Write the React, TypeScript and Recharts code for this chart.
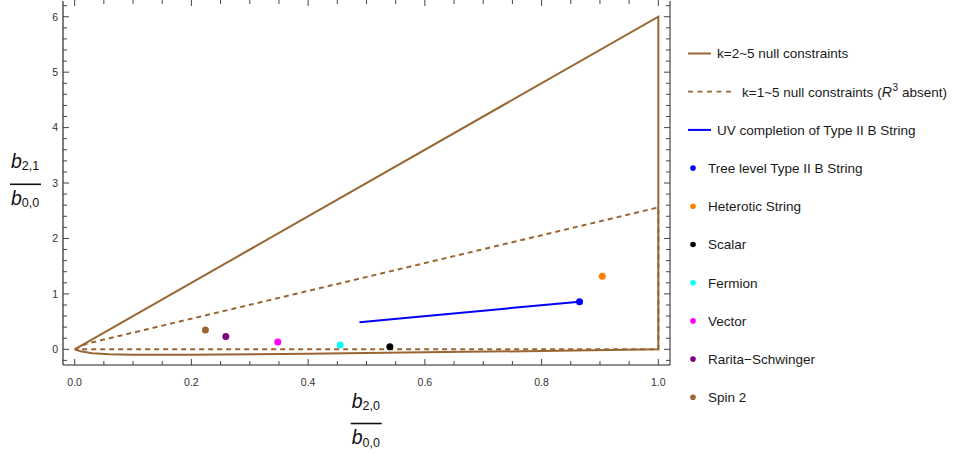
import { ComposedChart, Line, Scatter, XAxis, YAxis } from "recharts"

// k=2~5 region: up the upper edge, down at x=1, back along the lower curve
const solidRegion = [
  { x: 0, y: 0 },
  { x: 1, y: 6 },
  { x: 1, y: 0 },
  { x: 0.8, y: -0.03 },
  { x: 0.6, y: -0.055 },
  { x: 0.4, y: -0.08 },
  { x: 0.2, y: -0.098 },
  { x: 0.1, y: -0.1 },
  { x: 0.06, y: -0.09 },
  { x: 0.03, y: -0.07 },
  { x: 0.01, y: -0.035 },
  { x: 0, y: 0 },
]

// k=1~5 region (R^3 absent)
const dashedRegion = [
  { x: 0, y: 0 },
  { x: 0.02, y: 0.1 },
  { x: 1, y: 2.56 },
  { x: 1, y: 0 },
  { x: 0, y: 0 },
]

const uvLine = [
  { x: 0.488, y: 0.487 },
  { x: 0.865, y: 0.86 },
]

const treeLevel = [{ x: 0.865, y: 0.86 }]
const heterotic = [{ x: 0.904, y: 1.32 }]
const scalar = [{ x: 0.54, y: 0.047 }]
const fermion = [{ x: 0.455, y: 0.078 }]
const vector = [{ x: 0.348, y: 0.13 }]
const raritaSchwinger = [{ x: 0.259, y: 0.23 }]
const spin2 = [{ x: 0.224, y: 0.35 }]

const xTicks = [
  0, 0.05, 0.1, 0.15, 0.2, 0.25, 0.3, 0.35, 0.4, 0.45, 0.5,
  0.55, 0.6, 0.65, 0.7, 0.75, 0.8, 0.85, 0.9, 0.95, 1.0,
]
const yTicks = [
  -0.2, 0, 0.2, 0.4, 0.6, 0.8, 1, 1.2, 1.4, 1.6, 1.8, 2, 2.2, 2.4, 2.6, 2.8, 3,
  3.2, 3.4, 3.6, 3.8, 4, 4.2, 4.4, 4.6, 4.8, 5, 5.2, 5.4, 5.6, 5.8, 6, 6.2,
]

const BROWN = "#996633"
const FONT = "'Liberation Sans', Arial, sans-serif"
const TICK = "#444"

const isXMajor = (v: number) => Math.abs(v * 5 - Math.round(v * 5)) < 1e-6
const isYMajor = (v: number) => Math.abs(v - Math.round(v)) < 1e-6

const BottomTick = ({ x, y, payload }: any) => {
  const major = isXMajor(payload.value)
  return (
    <g>
      <line x1={x} x2={x} y1={y} y2={y - (major ? 6 : 4)} stroke={TICK} />
      {major && (
        <text x={x} y={y + 21} textAnchor="middle" fontSize={10.5} fontFamily={FONT} fill="#333">
          {payload.value.toFixed(1)}
        </text>
      )}
    </g>
  )
}

const TopTick = ({ x, y, payload }: any) => {
  const major = isXMajor(payload.value)
  return <line x1={x} x2={x} y1={y - 1} y2={y + (major ? 5 : 3)} stroke={TICK} />
}

const LeftTick = ({ x, y, payload }: any) => {
  const major = isYMajor(payload.value)
  return (
    <g>
      <line x1={x} x2={x + (major ? 6 : 4)} y1={y} y2={y} stroke={TICK} />
      {major && (
        <text x={x - 5} y={y + 3.8} textAnchor="end" fontSize={10.5} fontFamily={FONT} fill="#333">
          {Math.round(payload.value)}
        </text>
      )}
    </g>
  )
}

const RightTick = ({ x, y, payload }: any) => {
  const major = isYMajor(payload.value)
  return <line x1={x} x2={x - (major ? 6 : 4)} y1={y} y2={y} stroke={TICK} />
}

const dot = (color: string, r = 3.5) => (props: any) =>
  <circle cx={props.cx} cy={props.cy} r={r} fill={color} />

const legendItems = [
  { label: "k=2~5 null constraints", kind: "line", color: BROWN },
  { label: "k=1~5 null constraints", kind: "dash", color: BROWN },
  { label: "UV completion of Type II B String", kind: "line", color: "#0000ff" },
  { label: "Tree level Type II B String", kind: "dot", color: "#0000ff" },
  { label: "Heterotic String", kind: "dot", color: "#ff8000" },
  { label: "Scalar", kind: "dot", color: "#000000" },
  { label: "Fermion", kind: "dot", color: "#00ffff" },
  { label: "Vector", kind: "dot", color: "#ff00ff" },
  { label: "Rarita\u2212Schwinger", kind: "dot", color: "#800080" },
  { label: "Spin 2", kind: "dot", color: BROWN },
]

const Fraction = ({ x, y, num }: { x: number; y: number; num: string }) => (
  <g fontFamily={FONT} fill="#111">
    <text x={x + 1} y={y - 16}>
      <tspan fontSize={19.5} fontStyle="italic">b</tspan>
      <tspan fontSize={12.5} dy={2}>{num}</tspan>
    </text>
    <line x1={x} x2={x + 31} y1={y} y2={y} stroke="#111" strokeWidth={1.6} />
    <text x={x + 1} y={y + 20.5}>
      <tspan fontSize={19.5} fontStyle="italic">b</tspan>
      <tspan fontSize={12.5} dy={2.5}>0,0</tspan>
    </text>
  </g>
)

const Overlay = () => (
  <svg width={971} height={454} style={{ position: "absolute", left: 0, top: 0, pointerEvents: "none" }}>
    <Fraction x={10} y={184.3} num="2,1" />
    <Fraction x={350.7} y={423.5} num="2,0" />
    {legendItems.map((item, i) => {
      const cy = 53.5 + i * 38.2
      return (
        <g key={item.label}>
          {item.kind === "line" && (
            <line x1={688} x2={711} y1={cy} y2={cy} stroke={item.color} strokeWidth={2} />
          )}
          {item.kind === "dash" && (
            <line x1={688} x2={731} y1={cy} y2={cy} stroke={item.color} strokeWidth={1.8} strokeDasharray="5 4.5" />
          )}
          {item.kind === "dot" && <circle cx={693} cy={cy} r={2.8} fill={item.color} />}
          <text
            x={item.kind === "dot" ? 708 : item.kind === "dash" ? 742 : 717}
            y={cy + 4.8}
            fontSize={13.5}
            fontFamily={FONT}
            fill="#1a1a1a"
          >
            {item.label}
            {item.kind === "dash" && (
              <>
                <tspan dx={4}>(</tspan>
                <tspan fontStyle="italic" fontSize={14}>R</tspan>
                <tspan fontSize={10} dy={-6} dx={0.5}>3</tspan>
                <tspan dy={6} dx={4}>absent)</tspan>
              </>
            )}
          </text>
        </g>
      )
    })}
  </svg>
)

const App = () => {
  return (
    <div style={{ position: "absolute", left: 0, top: 0, width: 971, height: 454, background: "#fff" }}>
      <ComposedChart width={971} height={454} margin={{ top: 0, right: 300, bottom: 88, left: 62 }}>
        <XAxis
          xAxisId="bottom"
          dataKey="x"
          type="number"
          domain={[-0.02, 1.02]}
          allowDataOverflow
          ticks={xTicks}
          interval={0}
          height={1}
          tickSize={0}
          tickMargin={0}
          tickLine={false}
          axisLine={{ stroke: "#222" }}
          tick={<BottomTick />}
        />
        <XAxis
          xAxisId="top"
          orientation="top"
          dataKey="x"
          type="number"
          domain={[-0.02, 1.02]}
          allowDataOverflow
          ticks={xTicks}
          interval={0}
          height={1}
          tickSize={0}
          tickMargin={0}
          tickLine={false}
          axisLine={false}
          tick={<TopTick />}
        />
        <YAxis
          yAxisId="left"
          type="number"
          domain={[-0.283, 6.284]}
          allowDataOverflow
          ticks={yTicks}
          interval={0}
          width={1}
          tickSize={0}
          tickMargin={0}
          tickLine={false}
          axisLine={{ stroke: "#555", strokeWidth: 1.5 }}
          tick={<LeftTick />}
        />
        <YAxis
          yAxisId="right"
          orientation="right"
          type="number"
          domain={[-0.283, 6.284]}
          allowDataOverflow
          ticks={yTicks}
          interval={0}
          width={1}
          tickSize={0}
          tickMargin={0}
          tickLine={false}
          axisLine={{ stroke: "#222" }}
          tick={<RightTick />}
        />
        <Line xAxisId="bottom" yAxisId="left" data={dashedRegion} dataKey="y" type="linear" stroke={BROWN} strokeWidth={2} strokeDasharray="5 4" dot={false} isAnimationActive={false} />
        <Line xAxisId="bottom" yAxisId="left" data={solidRegion} dataKey="y" type="linear" stroke={BROWN} strokeWidth={2} dot={false} isAnimationActive={false} />
        <Line xAxisId="bottom" yAxisId="left" data={uvLine} dataKey="y" type="linear" stroke="#0000ff" strokeWidth={2} dot={false} isAnimationActive={false} />
        <Scatter xAxisId="bottom" yAxisId="left" data={treeLevel} dataKey="y" shape={dot("#0000ff")} isAnimationActive={false} />
        <Scatter xAxisId="bottom" yAxisId="left" data={heterotic} dataKey="y" shape={dot("#ff8000")} isAnimationActive={false} />
        <Scatter xAxisId="bottom" yAxisId="left" data={scalar} dataKey="y" shape={dot("#000000")} isAnimationActive={false} />
        <Scatter xAxisId="bottom" yAxisId="left" data={fermion} dataKey="y" shape={dot("#00ffff")} isAnimationActive={false} />
        <Scatter xAxisId="bottom" yAxisId="left" data={vector} dataKey="y" shape={dot("#ff00ff")} isAnimationActive={false} />
        <Scatter xAxisId="bottom" yAxisId="left" data={raritaSchwinger} dataKey="y" shape={dot("#800080")} isAnimationActive={false} />
        <Scatter xAxisId="bottom" yAxisId="left" data={spin2} dataKey="y" shape={dot(BROWN)} isAnimationActive={false} />
      </ComposedChart>
      <Overlay />
    </div>
  )
}

export default App
